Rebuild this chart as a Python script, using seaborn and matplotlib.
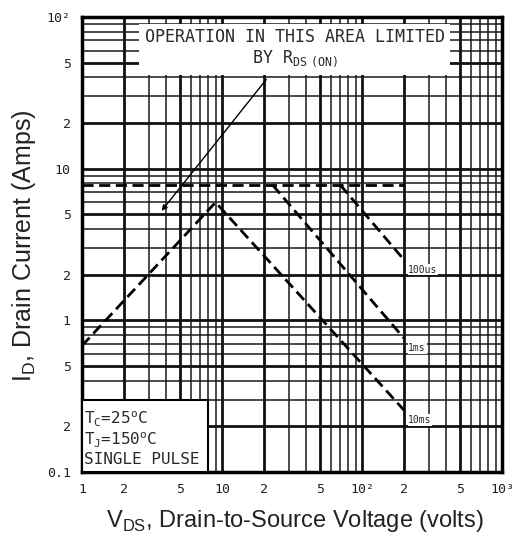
import matplotlib
matplotlib.use('Agg')
import matplotlib.pyplot as plt
import seaborn as sns
from matplotlib.patches import Rectangle
from matplotlib.ticker import FixedLocator, LogLocator, NullFormatter

sns.set_style('white')
plt.rcParams['font.family'] = ['Liberation Sans', 'DejaVu Sans']
plt.rcParams['mathtext.fontset'] = 'custom'

# ========== 数据 ==========
# 安全工作区 (SOA) 曲线，读自原图
limit_x = [1, 200]
limit_y = [7.8, 7.8]

us100_x = [70, 200]
us100_y = [7.8, 2.5]

ms1_x = [23, 200]
ms1_y = [7.8, 0.76]

ms10_x = [1, 9.0, 200]
ms10_y = [0.68, 6.0, 0.255]

x_ticks = [1, 2, 5, 10, 20, 50, 100, 200, 500, 1000]
x_labels = ['1', '2', '5', '10', '2', '5', '10²', '2', '5', '10³']
y_ticks = [0.1, 0.2, 0.5, 1, 2, 5, 10, 20, 50, 100]
y_labels = ['0.1', '2', '5', '1', '2', '5', '10', '2', '5', '10²']

MONO = 'DejaVu Sans Mono'

fig = plt.figure(figsize=(5.26, 5.41), dpi=100)
ax = fig.add_axes([82 / 526, 1 - 472 / 541, 420 / 526, 455 / 541])
ax.set_xscale('log')
ax.set_yscale('log')
ax.set_xlim(1, 1000)
ax.set_ylim(0.1, 100)

# 对数网格
ax.xaxis.set_minor_locator(LogLocator(base=10, subs=range(2, 10)))
ax.yaxis.set_minor_locator(LogLocator(base=10, subs=range(2, 10)))
ax.xaxis.set_minor_formatter(NullFormatter())
ax.yaxis.set_minor_formatter(NullFormatter())
ax.grid(which='major', color='#111111', linewidth=2.0)
ax.grid(which='minor', color='#1a1a1a', linewidth=1.1)
ax.set_axisbelow(True)

dash = (4, 2)
for xs, ys in [(limit_x, limit_y), (us100_x, us100_y), (ms1_x, ms1_y), (ms10_x, ms10_y)]:
    sns.lineplot(x=xs, y=ys, ax=ax, color='black', linewidth=2.0,
                 dashes=False, sort=False, zorder=3).lines[-1].set_dashes(dash)

# 曲线标签
for xs, ys, lab in [(us100_x, us100_y, '100us'), (ms1_x, ms1_y, '1ms'), (ms10_x, ms10_y, '10ms')]:
    ax.annotate(lab, xy=(xs[-1], ys[-1]), xytext=(3, -7), textcoords='offset points',
                fontsize=7, family=MONO, va='center', ha='left',
                bbox=dict(facecolor='white', edgecolor='none', pad=0.5), zorder=6)

# 顶部说明框
ax.text(33, 62, 'OPERATION IN THIS AREA LIMITED\nBY R$_\\mathregular{DS\\ (ON)}$',
        fontsize=12, family=MONO, ha='center', va='center', multialignment='center',
        color='#2a2a2a', linespacing=1.2,
        bbox=dict(facecolor='white', edgecolor='none', pad=4), zorder=5)
ax.annotate('', xy=(3.6, 5.1), xytext=(21.3, 40),
            arrowprops=dict(arrowstyle='-|>', color='black', lw=1.0,
                            mutation_scale=8), zorder=6)

# 左下角条件框
ax.add_patch(Rectangle((1, 0.1), 7, 0.2, facecolor='white', edgecolor='black',
                       linewidth=1.5, zorder=4))
ax.text(1.04, 0.108, 'T$_\\mathregular{C}$=25$^\\mathregular{o}$C\n'
        'T$_\\mathregular{J}$=150$^\\mathregular{o}$C\nSINGLE PULSE',
        fontsize=11.5, family=MONO, ha='left', va='bottom', color='#2a2a2a',
        linespacing=1.15, zorder=5)

ax.xaxis.set_major_locator(FixedLocator(x_ticks))
ax.set_xticklabels(x_labels)
ax.yaxis.set_major_locator(FixedLocator(y_ticks))
ax.set_yticklabels(y_labels)
ax.tick_params(which='both', length=0)
ax.tick_params(axis='x', pad=8, labelsize=9.5)
ax.tick_params(axis='y', pad=8, labelsize=9.5)
for lab in ax.get_xticklabels() + ax.get_yticklabels():
    lab.set_family(MONO)
    lab.set_color('#222222')

for sp in ax.spines.values():
    sp.set_visible(True)
    sp.set_color('black')
    sp.set_linewidth(2.5)

ax.set_xlabel('V$_\\mathregular{DS}$, Drain-to-Source Voltage (volts)', fontsize=17,
              color='#222222')
ax.set_ylabel('I$_\\mathregular{D}$, Drain Current (Amps)', fontsize=18,
              color='#222222')
ax.xaxis.set_label_coords(213 / 420, -36 / 455)
ax.yaxis.set_label_coords(-44 / 420, 226 / 455)

fig.savefig('out.png', dpi=100)
